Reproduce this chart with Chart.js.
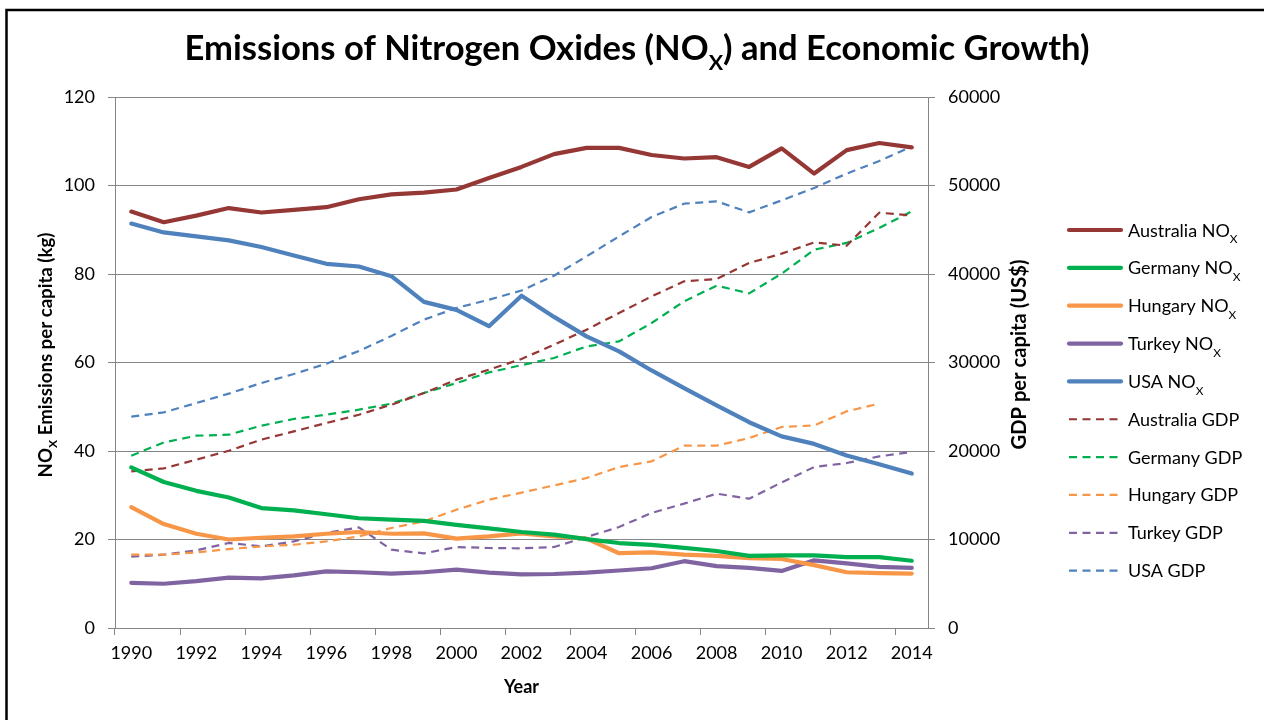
<!DOCTYPE html>
<html><head><meta charset="utf-8">
<script src="https://cdn.jsdelivr.net/npm/chart.js@4.4.1/dist/chart.umd.min.js"></script>
<style>html,body{margin:0;padding:0;background:#fff;overflow:hidden}#wrap{position:absolute;left:0;top:0;width:1264px;height:720px}</style>
</head><body><div id="wrap"><canvas id="c" width="1264" height="720"></canvas></div>
<script>
const years = ['1990','1991','1992','1993','1994','1995','1996','1997','1998','1999','2000','2001','2002','2003','2004','2005','2006','2007','2008','2009','2010','2011','2012','2013','2014'];
const leftTicks = [0, 20, 40, 60, 80, 100, 120];
const rightTicks = [0, 10000, 20000, 30000, 40000, 50000, 60000];

const australiaNox = [94.1, 91.7, 93.2, 94.9, 93.9, 94.5, 95.1, 96.9, 98.0, 98.4, 99.1, 101.7, 104.2, 107.1, 108.5, 108.5, 106.9, 106.1, 106.4, 104.2, 108.4, 102.7, 108.0, 109.6, 108.6];
const germanyNox   = [36.3, 33.0, 31.0, 29.5, 27.1, 26.6, 25.7, 24.8, 24.5, 24.2, 23.3, 22.5, 21.7, 21.1, 20.1, 19.2, 18.8, 18.1, 17.4, 16.3, 16.4, 16.4, 16.0, 16.0, 15.2];
const hungaryNox   = [27.3, 23.5, 21.3, 20.0, 20.4, 20.7, 21.3, 21.7, 21.3, 21.4, 20.2, 20.7, 21.4, 20.7, 20.2, 16.9, 17.1, 16.6, 16.3, 15.8, 15.6, 14.2, 12.6, 12.4, 12.3];
const turkeyNox    = [10.2, 10.0, 10.6, 11.4, 11.2, 11.9, 12.8, 12.6, 12.3, 12.6, 13.2, 12.5, 12.1, 12.2, 12.5, 13.0, 13.5, 15.1, 14.0, 13.6, 12.9, 15.3, 14.6, 13.8, 13.6];
const usaNox       = [91.4, 89.4, 88.5, 87.6, 86.1, 84.2, 82.3, 81.7, 79.5, 73.7, 71.9, 68.2, 75.1, 70.3, 65.9, 62.5, 58.2, 54.2, 50.3, 46.5, 43.3, 41.6, 39.0, 37.0, 34.9];

const australiaGdp = [17700, 18040, 19020, 20030, 21280, 22220, 23160, 24100, 25230, 26550, 28060, 29190, 30400, 32010, 33710, 35590, 37470, 39170, 39440, 41240, 42300, 43570, 43200, 46930, 46620];
const germanyGdp   = [19470, 20970, 21730, 21840, 22860, 23620, 24100, 24670, 25350, 26550, 27680, 28880, 29700, 30510, 31820, 32390, 34460, 36910, 38680, 37810, 40040, 42750, 43510, 45200, 47080];
const hungaryGdp   = [8280, 8280, 8540, 8920, 9220, 9410, 9790, 10350, 11300, 12050, 13370, 14500, 15300, 16110, 16950, 18190, 18830, 20600, 20600, 21470, 22710, 22890, 24480, 25350, null];
const turkeyGdp    = [8060, 8280, 8770, 9610, 9220, 9790, 10740, 11370, 8850, 8430, 9150, 9040, 9000, 9150, 10280, 11410, 13000, 14050, 15180, 14610, 16450, 18190, 18640, 19390, 19890];
const usaGdp       = [23880, 24360, 25420, 26480, 27680, 28700, 29870, 31300, 33000, 34840, 36160, 37100, 38130, 39810, 41990, 44250, 46440, 47950, 48210, 46960, 48320, 49720, 51340, 52770, 54420];

const countries = ['Australia', 'Germany', 'Hungary', 'Turkey', 'USA'];
const colors = ['#953735', '#00B050', '#F79646', '#8064A2', '#4F81BD'];
const noxSeries = [australiaNox, germanyNox, hungaryNox, turkeyNox, usaNox];
const gdpSeries = [australiaGdp, germanyGdp, hungaryGdp, turkeyGdp, usaGdp];

const GRID = '#868686';
const FONT = 'Lato';
const TXT = '#000000';

const datasets = [];
countries.forEach((c, i) => datasets.push({
  label: c + ' NOx', data: noxSeries[i], yAxisID: 'y', borderColor: colors[i], backgroundColor: colors[i],
  borderWidth: 4.2, pointRadius: 0, tension: 0, borderJoinStyle: 'round', borderCapStyle: 'round', _kind: 'nox', _name: c
}));
countries.forEach((c, i) => datasets.push({
  label: c + ' GDP', data: gdpSeries[i], yAxisID: 'y1', borderColor: colors[i], backgroundColor: colors[i],
  borderWidth: 2.2, borderDash: [8, 5.5], pointRadius: 0, tension: 0, borderJoinStyle: 'round', spanGaps: false, _kind: 'gdp', _name: c
}));

function drawRich(ctx, parts, x, y, size, weight, align, subScale, subDrop) {
  const fonts = parts.map(p => `${weight} ${p[1] ? size * subScale : size}px ${FONT}`);
  const ws = [];
  let w = 0;
  parts.forEach((p, i) => { ctx.font = fonts[i]; const m = ctx.measureText(p[0]).width; ws.push(m); w += m; });
  let cx = align === 'center' ? x - w / 2 : x;
  parts.forEach((p, i) => { ctx.font = fonts[i]; ctx.fillText(p[0], cx, y + (p[1] ? size * subDrop : 0)); cx += ws[i]; });
  return w;
}
function fitSize(ctx, parts, weight, target, subScale) {
  let w = 0;
  parts.forEach(p => { ctx.font = `${weight} ${p[1] ? 100 * subScale : 100}px ${FONT}`; w += ctx.measureText(p[0]).width; });
  return 100 * target / w;
}

const decor = {
  id: 'decor',
  beforeDraw(chart) {
    const ctx = chart.ctx;
    ctx.save();
    ctx.fillStyle = '#fff';
    ctx.fillRect(0, 0, chart.width, chart.height);
    ctx.strokeStyle = '#000';
    ctx.lineWidth = 2.5;
    ctx.beginPath();
    ctx.moveTo(6.5, 730); ctx.lineTo(6.5, 10); ctx.lineTo(1300, 10);
    ctx.stroke();
    ctx.restore();
  },
  afterDraw(chart) {
    const ctx = chart.ctx;
    const area = chart.chartArea;
    ctx.save();
    ctx.fillStyle = TXT;
    ctx.textBaseline = 'alphabetic';
    // Title
    const titleParts = [['Emissions of Nitrogen Oxides (NO', false], ['X', true], [') and Economic Growth)', false]];
    const ts = fitSize(ctx, titleParts, 'bold', 905, 0.62);
    drawRich(ctx, titleParts, 637, 60, ts, 'bold', 'center', 0.62, 0.3);
    // X axis title
    drawRich(ctx, [['Year', false]], (area.left + area.right) / 2, 693, 18, 'bold', 'center', 0.7, 0.3);
    // Left axis title (rotated)
    ctx.save();
    ctx.translate(51.5, 355);
    ctx.rotate(-Math.PI / 2);
    const lp = [['NO', false], ['X', true], [' Emissions per capita (kg)', false]];
    const ls = fitSize(ctx, lp, 'bold', 245, 0.65);
    drawRich(ctx, lp, 0, 0, ls, 'bold', 'center', 0.65, 0.3);
    ctx.restore();
    // Right axis title
    ctx.save();
    ctx.translate(1026, (area.top + area.bottom) / 2 - 8);
    ctx.rotate(-Math.PI / 2);
    const rp = [['GDP per capita (US$)', false]];
    const rs = fitSize(ctx, rp, 'bold', 190, 0.65);
    drawRich(ctx, rp, 0, 0, rs, 'bold', 'center', 0.65, 0.3);
    ctx.restore();
    // Legend
    const rowY0 = 230, rowStep = 37.85;
    chart.data.datasets.forEach((ds, i) => {
      const y = rowY0 + i * rowStep;
      ctx.save();
      ctx.strokeStyle = ds.borderColor;
      ctx.lineWidth = ds._kind === 'nox' ? 4.2 : 2.2;
      ctx.lineCap = ds._kind === 'nox' ? 'round' : 'butt';
      ctx.setLineDash(ds.borderDash || []);
      ctx.beginPath();
      ctx.moveTo(1069, y); ctx.lineTo(1121, y);
      ctx.stroke();
      ctx.restore();
      ctx.fillStyle = TXT;
      const parts = ds._kind === 'nox' ? [[ds._name + ' NO', false], ['X', true]] : [[ds._name + ' GDP', false]];
      drawRich(ctx, parts, 1128, y + 6.5, 18, 'normal', 'left', 0.66, 0.38);
    });
    ctx.restore();
  }
};

new Chart(document.getElementById('c'), {
  type: 'line',
  data: { labels: years, datasets },
  options: {
    responsive: false,
    devicePixelRatio: 1,
    animation: false,
    events: [],
    layout: { padding: { top: 97, left: 0, right: 0, bottom: 0 } },
    plugins: { legend: { display: false }, title: { display: false }, tooltip: { enabled: false } },
    scales: {
      x: {
        type: 'category',
        offset: true,
        grid: {
          offset: true, drawOnChartArea: false, drawTicks: true, tickLength: 7,
          tickColor: (ctx) => (ctx.index !== undefined && ctx.index % 2 === 0) ? GRID : 'rgba(0,0,0,0)'
        },
        border: { display: true, color: GRID, width: 1 },
        ticks: {
          autoSkip: false, maxRotation: 0, minRotation: 0, padding: 7, color: TXT,
          font: { family: FONT, size: 18 },
          callback: (v, i) => (i % 2 === 0 ? years[i] : '')
        },
        afterFit: (s) => { s.height = 92; }
      },
      y: {
        position: 'left', min: leftTicks[0], max: leftTicks[leftTicks.length - 1],
        afterBuildTicks: (s) => { s.ticks = leftTicks.map(v => ({ value: v })); },
        grid: { color: GRID, lineWidth: 1, drawTicks: true, tickLength: 7, tickColor: GRID },
        border: { display: true, color: GRID, width: 1 },
        ticks: { padding: 13, color: TXT, font: { family: FONT, size: 18 } },
        afterFit: (s) => { s.width = 115; }
      },
      y1: {
        position: 'right', min: rightTicks[0], max: rightTicks[rightTicks.length - 1],
        afterBuildTicks: (s) => { s.ticks = rightTicks.map(v => ({ value: v })); },
        grid: { drawOnChartArea: false, drawTicks: true, tickLength: 7, tickColor: GRID, color: GRID },
        border: { display: true, color: GRID, width: 1 },
        ticks: { padding: 13, color: TXT, font: { family: FONT, size: 18 }, callback: (v) => String(v) },
        afterFit: (s) => { s.width = 1264 - 928; }
      }
    }
  },
  plugins: [decor]
});
</script>
</body></html>
